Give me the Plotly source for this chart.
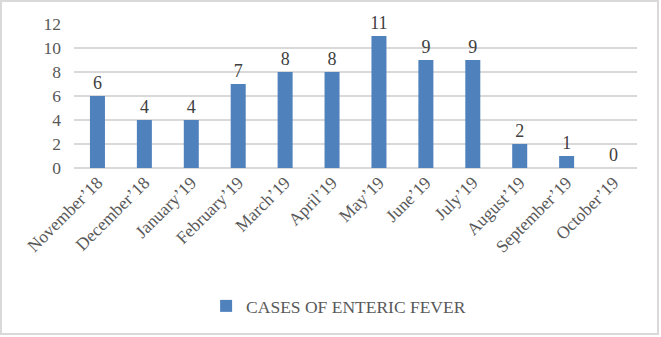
import plotly.graph_objects as go

months = ["November’18", "December’18", "January’19", "February’19", "March’19", "April’19",
          "May’19", "June’19", "July’19", "August’19", "September’19", "October’19"]
cases = [6, 4, 4, 7, 8, 8, 11, 9, 9, 2, 1, 0]
series_name = "CASES OF ENTERIC FEVER"

W, H = 661, 337
ml, mr, mt, mb = 74, 24, 24, 169
pw, ph = W - ml - mr, H - mt - mb

fig = go.Figure()
fig.add_trace(go.Bar(
    x=months, y=cases, name=series_name,
    marker=dict(color="#4f81bd", line=dict(width=0)),
    text=[str(v) for v in cases], textposition="outside", cliponaxis=False,
    constraintext="none",
    textfont=dict(family="Liberation Serif", size=18, color="#404040"),
    showlegend=True,
))

fig.update_layout(
    width=W, height=H,
    margin=dict(l=ml, r=mr, t=mt, b=mb),
    paper_bgcolor="white", plot_bgcolor="white",
    bargap=0.68,
    font=dict(family="Liberation Serif", color="#595959", size=17),
    xaxis=dict(tickangle=-45, showgrid=False, showline=False, ticks="",
               tickfont=dict(size=17.5, color="#595959")),
    yaxis=dict(range=[0, 12], dtick=2, showgrid=True, gridcolor="#d9d9d9", gridwidth=1.5,
               zeroline=True, zerolinecolor="#d9d9d9", zerolinewidth=1.5,
               showline=False, ticks="", tickfont=dict(size=17.5, color="#595959"),
               ticklabelstandoff=12),
    legend=dict(orientation="h", x=0.47, xanchor="center", y=(mt + ph - 306) / ph, yanchor="middle",
                font=dict(size=17.5, color="#595959"), itemwidth=30),
    shapes=[dict(type="rect", xref="paper", yref="paper",
                 x0=-(ml - 1) / pw, x1=1 + (mr - 3) / pw,
                 y0=-(mb - 3) / ph, y1=1 + (mt - 1) / ph,
                 line=dict(color="#d9d9d9", width=2), fillcolor="rgba(0,0,0,0)", layer="below")],
)

fig.write_html("out.html")
